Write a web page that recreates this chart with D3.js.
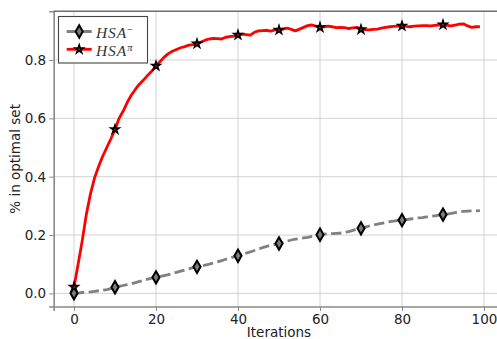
<!DOCTYPE html>
<html>
<head>
<meta charset="utf-8">
<script src="https://cdn.jsdelivr.net/npm/d3@7"></script>
<style>
  html, body { margin: 0; padding: 0; background: #fff; }
  svg { display: block; }
  text { font-family: "DejaVu Sans", sans-serif; }
</style>
</head>
<body>
<svg id="chart" width="497" height="339"></svg>
<script>
// Fraction of runs whose result lies in the optimal set, per iteration
const iterations = d3.range(0, 100);

const hsaMinus = [
  0.000, 0.001, 0.003, 0.004, 0.005, 0.007, 0.009, 0.011, 0.013, 0.016,
  0.021, 0.024, 0.027, 0.030, 0.033, 0.037, 0.041, 0.045, 0.049, 0.052,
  0.055, 0.058, 0.061, 0.064, 0.068, 0.072, 0.076, 0.080, 0.084, 0.088,
  0.091, 0.094, 0.097, 0.100, 0.104, 0.108, 0.112, 0.117, 0.121, 0.125,
  0.129, 0.133, 0.138, 0.142, 0.147, 0.152, 0.157, 0.161, 0.165, 0.168,
  0.171, 0.175, 0.179, 0.183, 0.186, 0.188, 0.190, 0.192, 0.195, 0.198,
  0.201, 0.203, 0.204, 0.205, 0.206, 0.207, 0.209, 0.212, 0.216, 0.220,
  0.223, 0.227, 0.231, 0.234, 0.237, 0.240, 0.243, 0.246, 0.248, 0.250,
  0.251, 0.253, 0.255, 0.257, 0.259, 0.260, 0.262, 0.264, 0.266, 0.268,
  0.270, 0.272, 0.274, 0.277, 0.279, 0.281, 0.282, 0.283, 0.283, 0.284
];

const hsaPi = [
  0.022, 0.100, 0.180, 0.270, 0.340, 0.395, 0.435, 0.470, 0.500, 0.530,
  0.562, 0.600, 0.625, 0.655, 0.680, 0.700, 0.718, 0.732, 0.748, 0.762,
  0.780, 0.795, 0.810, 0.822, 0.830, 0.836, 0.842, 0.846, 0.851, 0.853,
  0.856, 0.862, 0.868, 0.872, 0.874, 0.873, 0.872, 0.878, 0.880, 0.882,
  0.886, 0.889, 0.887, 0.885, 0.895, 0.900, 0.901, 0.902, 0.899, 0.903,
  0.903, 0.906, 0.909, 0.905, 0.900, 0.906, 0.912, 0.918, 0.920, 0.916,
  0.912, 0.914, 0.916, 0.914, 0.911, 0.912, 0.911, 0.908, 0.910, 0.912,
  0.905, 0.904, 0.903, 0.905, 0.906, 0.909, 0.912, 0.914, 0.915, 0.916,
  0.917, 0.915, 0.914, 0.916, 0.917, 0.918, 0.918, 0.917, 0.919, 0.920,
  0.921, 0.919, 0.917, 0.920, 0.923, 0.924, 0.917, 0.912, 0.914, 0.914
];

const xTicks = [0, 20, 40, 60, 80, 100];
const yTicks = [0.0, 0.2, 0.4, 0.6, 0.8];
const markEvery = 10;

const svg = d3.select("#chart");

const x = d3.scaleLinear().domain([-4.95, 103.95]).range([53.7, 500.2]);
const y = d3.scaleLinear().domain([-0.045, 0.967]).range([306.5, 11.3]);

// grid
const grid = svg.append("g");
grid.selectAll("line.gx").data(xTicks).join("line")
  .attr("x1", d => x(d)).attr("x2", d => x(d))
  .attr("y1", y.range()[0]).attr("y2", y.range()[1])
  .attr("stroke", "#d2d2d2").attr("stroke-width", 1);
grid.selectAll("line.gy").data(yTicks).join("line")
  .attr("y1", d => y(d)).attr("y2", d => y(d))
  .attr("x1", x.range()[0]).attr("x2", x.range()[1])
  .attr("stroke", "#d2d2d2").attr("stroke-width", 1);

// axes
const xAxis = svg.append("g")
  .attr("transform", `translate(0,${y.range()[0]})`)
  .call(d3.axisBottom(x).tickValues(xTicks).tickFormat(d3.format("d")).tickSize(4.5).tickPadding(3));
const yAxis = svg.append("g")
  .attr("transform", `translate(${x.range()[0]},0)`)
  .call(d3.axisLeft(y).tickValues(yTicks).tickFormat(d3.format(".1f")).tickSize(4.5).tickPadding(3));

[xAxis, yAxis].forEach(g => {
  g.select(".domain").attr("stroke", "#8a8a8a").attr("stroke-width", 1.6);
  g.selectAll(".tick line").attr("stroke", "#8a8a8a").attr("stroke-width", 1);
  g.selectAll(".tick text").attr("fill", "#222").style("font-size", "13.5px")
    .style("font-family", "'DejaVu Sans', sans-serif");
});

// top spine
svg.append("line")
  .attr("x1", x.range()[0]).attr("x2", x.range()[1])
  .attr("y1", y.range()[1]).attr("y2", y.range()[1])
  .attr("stroke", "#6e6e6e").attr("stroke-width", 1.4);

// axis labels
svg.append("text")
  .attr("x", (x(0) + x(100)) / 2).attr("y", 337)
  .attr("text-anchor", "middle").attr("fill", "#222")
  .style("font-size", "13.5px").text("Iterations");
svg.append("text")
  .attr("transform", `translate(20,${(y.range()[0] + y.range()[1]) / 2}) rotate(-90)`)
  .attr("text-anchor", "middle").attr("fill", "#222")
  .style("font-size", "13.5px").text("% in optimal set");

const line = d3.line().x((d, i) => x(iterations[i])).y(d => y(d));

const diamond = d3.symbol().type(d3.symbolDiamond).size(44);
const star = d3.symbol().type(d3.symbolStar).size(20);

// HSA^- series
svg.append("path").datum(hsaMinus)
  .attr("d", line).attr("fill", "none")
  .attr("stroke", "#808080").attr("stroke-width", 2.8)
  .attr("stroke-dasharray", "10.3,4.4");
svg.append("g").selectAll("path")
  .data(iterations.filter(i => i % markEvery === 0))
  .join("path")
  .attr("d", diamond)
  .attr("transform", i => `translate(${x(i)},${y(hsaMinus[i])})`)
  .attr("fill", "#7a7a7a").attr("stroke", "#000").attr("stroke-width", 2);

// HSA^pi series
svg.append("path").datum(hsaPi)
  .attr("d", line).attr("fill", "none")
  .attr("stroke", "#ff0000").attr("stroke-width", 2.8)
  .attr("stroke-linejoin", "round");
svg.append("g").selectAll("path")
  .data(iterations.filter(i => i % markEvery === 0))
  .join("path")
  .attr("d", star)
  .attr("transform", i => `translate(${x(i)},${y(hsaPi[i])})`)
  .attr("fill", "#ff0000").attr("stroke", "#000").attr("stroke-width", 1.7)
  .attr("stroke-linejoin", "miter");

// legend
const legend = svg.append("g");
legend.append("rect")
  .attr("x", 58.5).attr("y", 16.5).attr("width", 89).attr("height", 46.5)
  .attr("fill", "#fff").attr("stroke", "#444").attr("stroke-width", 1.1);

const entries = [
  { sup: "\u2212", color: "#808080", dash: "10.3,4.4", marker: diamond, fill: "#7a7a7a", sw: 2, cy: 31.5 },
  { sup: "\u03c0", color: "#ff0000", dash: null, marker: star, fill: "#ff0000", sw: 1.7, cy: 49.3 }
];
entries.forEach(e => {
  legend.append("line")
    .attr("x1", 66.7).attr("x2", 91.7).attr("y1", e.cy).attr("y2", e.cy)
    .attr("stroke", e.color).attr("stroke-width", 2.8)
    .attr("stroke-dasharray", e.dash);
  legend.append("path")
    .attr("d", e.marker)
    .attr("transform", `translate(79.2,${e.cy})`)
    .attr("fill", e.fill).attr("stroke", "#000").attr("stroke-width", e.sw);
  const t = legend.append("text")
    .attr("x", 96).attr("y", e.cy + 6.4)
    .attr("fill", "#333")
    .style("font-family", "'Liberation Serif', 'DejaVu Serif', serif")
    .style("font-style", "italic")
    .style("font-size", "15.5px")
    .style("letter-spacing", "0.9px");
  t.append("tspan").text("HSA");
  t.append("tspan").attr("dy", -5).style("font-size", "10.5px")
    .style("font-style", e.sup === "\u03c0" ? "italic" : "normal").text(e.sup);
});
</script>
</body>
</html>
